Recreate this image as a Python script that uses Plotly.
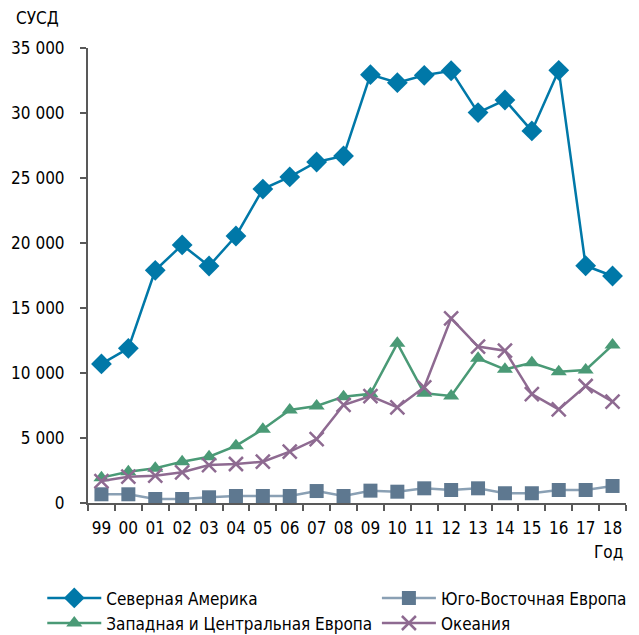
import plotly.graph_objects as go

years = ["99", "00", "01", "02", "03", "04", "05", "06", "07", "08",
         "09", "10", "11", "12", "13", "14", "15", "16", "17", "18"]
north_america = [10700, 11900, 17900, 19850, 18230, 20540, 24150, 25080, 26230, 26700,
                 32950, 32330, 32900, 33250, 30030, 31000, 28620, 33280, 18250, 17460]
se_europe = [670, 670, 310, 310, 440, 540, 540, 540, 920, 540,
             950, 870, 1130, 1000, 1130, 750, 750, 1000, 1000, 1310]
wc_europe = [1950, 2400, 2670, 3180, 3560, 4400, 5670, 7150, 7460, 8180,
             8400, 12280, 8440, 8230, 11130, 10280, 10790, 10100, 10230, 12150]
oceania = [1690, 2020, 2100, 2360, 2920, 3000, 3180, 3950, 4920, 7540,
           8230, 7360, 8900, 14200, 12030, 11720, 8380, 7200, 9000, 7800]

names = ["Северная Америка", "Юго-Восточная Европа",
         "Западная и Центральная Европа", "Океания"]

FONT = "DejaVu Sans Condensed, DejaVu Sans, sans-serif"

fig = go.Figure()
fig.add_trace(go.Scatter(x=years, y=north_america, name=names[0], mode="lines+markers",
                         legend="legend",
                         line=dict(color="#0078A8", width=2.5),
                         marker=dict(symbol="diamond", size=16, color="#0078A8")))
fig.add_trace(go.Scatter(x=years, y=wc_europe, name=names[2], mode="lines+markers",
                         legend="legend",
                         line=dict(color="#4A9A76", width=2.5),
                         marker=dict(symbol="triangle-up", size=14, color="#4A9A76")))
fig.add_trace(go.Scatter(x=years, y=se_europe, name=names[1], mode="lines+markers",
                         legend="legend2",
                         line=dict(color="#8AA0B4", width=2.5),
                         marker=dict(symbol="square", size=14, color="#5E7890")))
fig.add_trace(go.Scatter(x=years, y=oceania, name=names[3], mode="lines+markers",
                         legend="legend2",
                         line=dict(color="#8E6A91", width=2.5),
                         marker=dict(symbol="x-thin", size=14,
                                     line=dict(color="#8E6A91", width=2.5), color="#8E6A91")))

legend_common = dict(orientation="v", yanchor="top", y=-0.17, itemwidth=54,
                     font=dict(family=FONT, size=17), tracegroupgap=0,
                     traceorder="normal", bgcolor="rgba(0,0,0,0)")

fig.update_layout(
    width=639, height=635,
    margin=dict(l=88, r=13, t=48, b=132, autoexpand=False),
    paper_bgcolor="white", plot_bgcolor="white",
    separators=", ",
    font=dict(family=FONT, size=17, color="#000000"),
    showlegend=True,
    legend=dict(x=-0.085, xanchor="left", **legend_common),
    legend2=dict(x=0.537, xanchor="left", **legend_common),
    xaxis=dict(type="category", showline=True, linecolor="#595959", linewidth=2,
               ticks="outside", tickson="boundaries", ticklen=6, tickcolor="#595959",
               tickwidth=1.5, showgrid=False, zeroline=False, automargin=False,
               tickangle=0, ticklabelstandoff=9, tickfont=dict(size=17),
               range=[-0.5, 19.5]),
    yaxis=dict(range=[0, 35000], dtick=5000, tickformat=",d", showline=True,
               linecolor="#595959", linewidth=2, ticks="outside", ticklen=6,
               tickcolor="#595959", tickwidth=1.5, showgrid=False, zeroline=False,
               automargin=False, ticklabelstandoff=12, tickfont=dict(size=17)),
    annotations=[
        dict(text="СУСД", xref="paper", yref="paper", x=-0.1375, y=1.04,
             xanchor="left", yanchor="bottom", showarrow=False, font=dict(size=17)),
        dict(text="Год", xref="paper", yref="paper", x=0.998, y=-0.135,
             xanchor="right", yanchor="bottom", showarrow=False, font=dict(size=17)),
    ],
)

fig.write_html("out.html", config={"displayModeBar": False},
               post_script="document.body.style.margin='0';document.body.style.overflow='hidden';")
